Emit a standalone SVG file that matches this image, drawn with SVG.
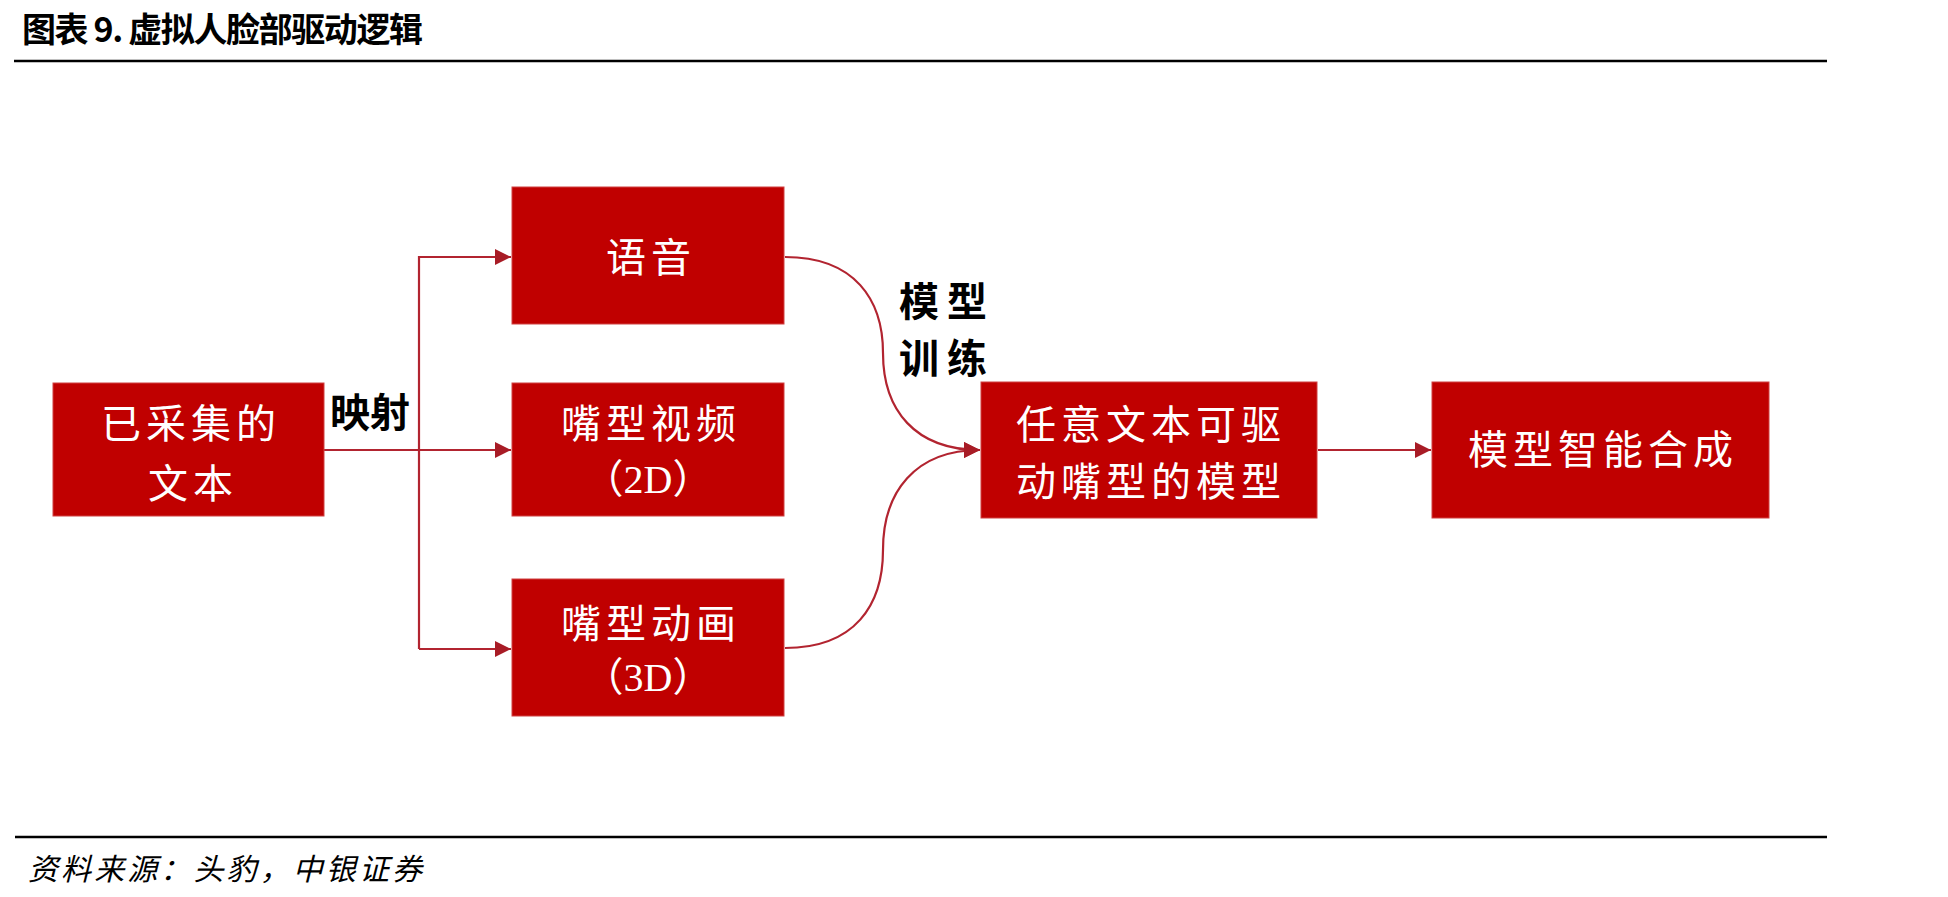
<svg xmlns="http://www.w3.org/2000/svg" width="1948" height="897" viewBox="0 0 1948 897">
  <style>
    .box { fill: #C00000; stroke: #d04040; stroke-width: 1; }
    .bt { fill: #ffffff; font-family: "Liberation Serif", "Noto Sans CJK SC", serif; font-size: 40px; letter-spacing: 5px; text-anchor: middle; dominant-baseline: central; }
    .bt2 { fill: #ffffff; font-family: "Liberation Serif", "Noto Sans CJK SC", serif; font-size: 40px; text-anchor: middle; dominant-baseline: central; }
    .lbl { fill: #000000; font-family: "Noto Sans CJK SC", sans-serif; font-size: 40px; font-weight: bold; dominant-baseline: central; }
    .conn { fill: none; stroke: #b22430; stroke-width: 2.2; }
    .rule { stroke: #000000; stroke-width: 2.5; }
  </style>
  <defs>
    <marker id="arr" viewBox="0 0 10 10" refX="10" refY="5" markerWidth="16" markerHeight="16" markerUnits="userSpaceOnUse" orient="auto">
      <path d="M0,0 L10,5 L0,10 z" fill="#a81c26"/>
    </marker>
  </defs>
  <rect width="1948" height="897" fill="#ffffff"/>

  <g id="title">
    <text x="22" y="27" font-family="Noto Sans CJK SC, sans-serif" font-size="34" font-weight="bold" dominant-baseline="central" textLength="401" lengthAdjust="spacing" fill="#000">图表 9. 虚拟人脸部驱动逻辑</text>
    <line class="rule" x1="14" y1="61" x2="1827" y2="61"/>
  </g>

  <g id="connectors">
    <path class="conn" d="M324,450 L511,450" marker-end="url(#arr)"/>
    <path class="conn" d="M419,649 L419,257 L511,257" marker-end="url(#arr)"/>
    <path class="conn" d="M419,649 L511,649" marker-end="url(#arr)"/>
    <path class="conn" d="M785,257 C855,257 883,300 883,353 C883,410 915,450 980,450" marker-end="url(#arr)"/>
    <path class="conn" d="M785,648 C855,648 883,605 883,550 C883,492 915,450 980,450" marker-end="url(#arr)"/>
    <path class="conn" d="M1318,450 L1431,450" marker-end="url(#arr)"/>
    <text class="lbl" x="330" y="410">映射</text>
    <text class="lbl" x="899" y="299" letter-spacing="8">模型</text>
    <text class="lbl" x="899" y="356" letter-spacing="8">训练</text>
  </g>

  <g id="node-text">
    <rect class="box" x="53" y="383" width="271" height="133"/>
    <text class="bt" x="191" y="424">已采集的</text>
    <text class="bt" x="193" y="484">文本</text>
  </g>

  <g id="node-speech">
    <rect class="box" x="512" y="187" width="272" height="137"/>
    <text class="bt" x="651" y="258">语音</text>
  </g>

  <g id="node-video">
    <rect class="box" x="512" y="383" width="272" height="133"/>
    <text class="bt" x="651" y="424">嘴型视频</text>
    <text class="bt2" x="648" y="479">（2D）</text>
  </g>

  <g id="node-anim">
    <rect class="box" x="512" y="579" width="272" height="137"/>
    <text class="bt" x="651" y="624">嘴型动画</text>
    <text class="bt2" x="648" y="677">（3D）</text>
  </g>

  <g id="node-model">
    <rect class="box" x="981" y="382" width="336" height="136"/>
    <text class="bt" x="1151" y="425">任意文本可驱</text>
    <text class="bt" x="1151" y="482">动嘴型的模型</text>
  </g>

  <g id="node-synth">
    <rect class="box" x="1432" y="382" width="337" height="136"/>
    <text class="bt" x="1603" y="450">模型智能合成</text>
  </g>

  <g id="footer">
    <line class="rule" x1="15" y1="837" x2="1827" y2="837"/>
    <text x="28" y="867" font-family="Noto Sans CJK SC, sans-serif" font-size="30" font-style="italic" dominant-baseline="central" textLength="394" lengthAdjust="spacing" fill="#000">资料来源：头豹，中银证券</text>
  </g>
</svg>
